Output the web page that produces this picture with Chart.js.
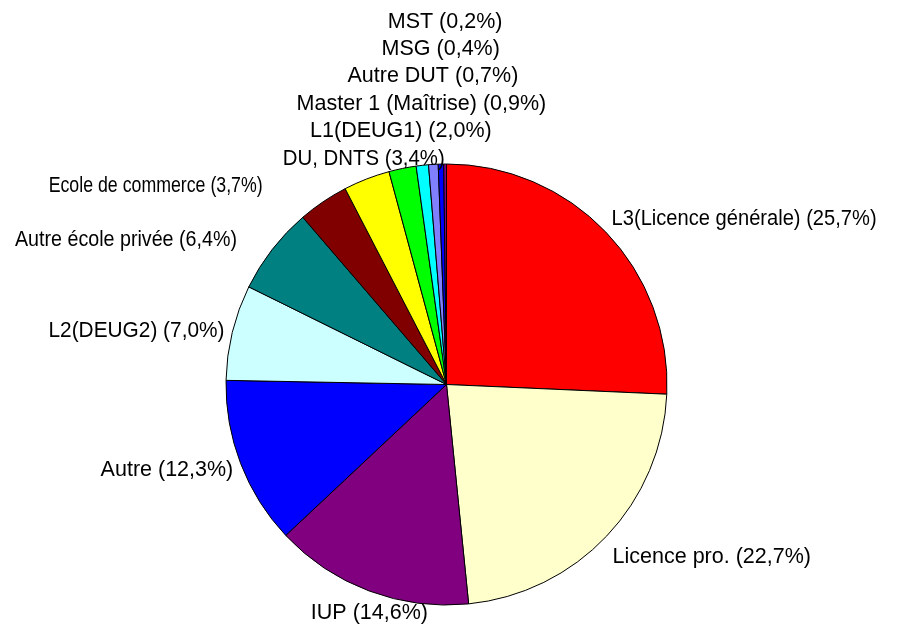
<!DOCTYPE html>
<html lang="fr">
<head>
    <meta charset="UTF-8">
    <title>Répartition des diplômes</title>
    <script src="https://cdn.jsdelivr.net/npm/chart.js"></script>
    <style>
        html, body {
            margin: 0;
            padding: 0;
            background: #fff;
        }
        .chart-container {
            position: relative;
            width: 904px;
            height: 627px;
        }
    </style>
</head>
<body>
<div class="chart-container">
    <canvas id="pie"></canvas>
</div>

<script>
    // Données
    const categories = [
        'L3(Licence générale)', 'Licence pro.', 'IUP', 'Autre', 'L2(DEUG2)',
        'Autre école privée', 'Ecole de commerce', 'DU, DNTS', 'L1(DEUG1)',
        'Master 1 (Maîtrise)', 'Autre DUT', 'MSG', 'MST'
    ];
    const percents = [25.7, 22.7, 14.6, 12.3, 7.0, 6.4, 3.7, 3.4, 2.0, 0.9, 0.7, 0.4, 0.2];
    const sliceColors = [
        '#FF0000', '#FFFFCC', '#800080', '#0000FF', '#CCFFFF',
        '#008080', '#800000', '#FFFF00', '#00FF00', '#00FFFF',
        '#8080FF', '#0000FF', '#800080'
    ];

    // Petits réglages des étiquettes (décalage x, y et largeur max), comme dans Excel
    const labelTweaks = {
        'L3(Licence générale)': {maxWidth: 265},
        'Licence pro.': {dy: 8},
        'IUP': {dx: 3, dy: 4},
        'L2(DEUG2)': {dy: 3, maxWidth: 176},
        'Autre école privée': {dx: -29, dy: 2, maxWidth: 222},
        'Ecole de commerce': {dx: -56, maxWidth: 214},
        'DU, DNTS': {maxWidth: 162}
    };

    const FONT = '21.5px "Liberation Sans", Arial, sans-serif';

    // Étiquettes à l'extérieur du camembert
    const outsideLabels = {
        id: 'outsideLabels',
        afterDatasetsDraw(chart) {
            const ctx = chart.ctx;
            const meta = chart.getDatasetMeta(0);
            const gap = 8, h = 22, step = 27.4;
            ctx.save();
            ctx.font = FONT;
            ctx.fillStyle = '#000';
            ctx.textBaseline = 'middle';

            const placed = [];
            meta.data.forEach((arc, i) => {
                const p = arc.getProps(['x', 'y', 'startAngle', 'endAngle', 'outerRadius'], true);
                const mid = (p.startAngle + p.endAngle) / 2;
                const dx = Math.cos(mid), dy = Math.sin(mid);
                const ax = p.x + dx * (p.outerRadius + gap);
                const ay = p.y + dy * (p.outerRadius + gap);
                const text = categories[i] + ' (' + percents[i].toFixed(1).replace('.', ',') + '%)';
                const tw = labelTweaks[categories[i]] || {};
                const w = Math.min(ctx.measureText(text).width, tw.maxWidth || Infinity);

                let left;
                if (Math.abs(dx) < 0.45) left = ax - w / 2;
                else if (dx > 0) left = ax;
                else left = ax - w;
                let cy = ay + dy * h / 2;

                // éviter les chevauchements (on empile)
                let moved = true;
                while (moved) {
                    moved = false;
                    for (const b of placed) {
                        const overlapX = left < b.left + b.w && left + w > b.left;
                        if (overlapX && Math.abs(cy - b.cy) < step - 0.01) {
                            cy = dy < 0 ? b.cy - step : b.cy + step;
                            moved = true;
                        }
                    }
                }
                placed.push({left, w, cy, text, tw});
            });

            placed.forEach(b => {
                ctx.fillText(b.text, b.left + (b.tw.dx || 0), b.cy + (b.tw.dy || 0), b.w);
            });
            ctx.restore();
        }
    };

    const chart = new Chart(document.getElementById('pie'), {
        type: 'pie',
        data: {
            labels: categories,
            datasets: [{
                data: percents,
                backgroundColor: sliceColors,
                borderColor: '#000',
                borderWidth: 1,
                offset: 0,
                hoverOffset: 0
            }]
        },
        options: {
            responsive: true,
            maintainAspectRatio: false,
            animation: false,
            layout: {
                padding: {left: 225.5, right: 236.5, top: 163.5, bottom: 21.5}
            },
            plugins: {
                legend: {display: false},
                tooltip: {enabled: false}
            }
        },
        plugins: [outsideLabels]
    });
</script>
</body>
</html>
